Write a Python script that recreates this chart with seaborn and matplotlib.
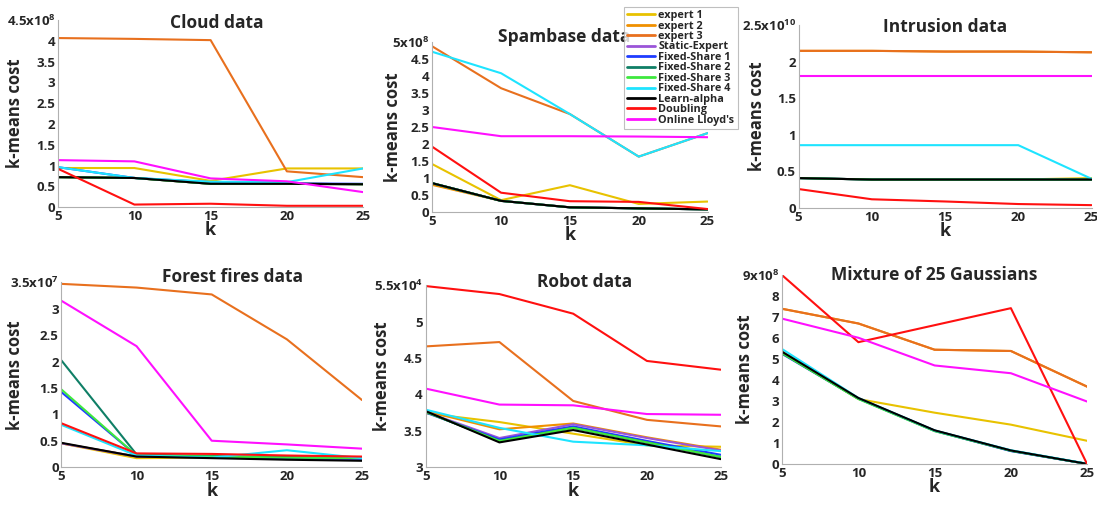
import pandas as pd
import matplotlib
matplotlib.use('Agg')
import matplotlib.pyplot as plt
import seaborn as sns

# k values used in every panel
k_values = [5, 10, 15, 20, 25]

methods = ['expert 1', 'expert 2', 'expert 3', 'Static-Expert',
           'Fixed-Share 1', 'Fixed-Share 2', 'Fixed-Share 3',
           'Fixed-Share 4', 'Learn-alpha', 'Doubling', "Online Lloyd's"]

colors = ['#e8c200', '#f09000', '#e8701e', '#9a55d8', '#1f3cff',
          '#0f7f66', '#3ee83e', '#1ee4ff', '#000000', '#ff1010',
          '#ff10ff']

# Cloud data (x 1e8)
cloud = {
    'expert 1': [0.94, 0.94, 0.63, 0.93, 0.93],
    'expert 2': [0.72, 0.70, 0.56, 0.56, 0.55],
    'expert 3': [4.07, 4.05, 4.02, 0.86, 0.72],
    'Static-Expert': [0.72, 0.70, 0.56, 0.56, 0.55],
    'Fixed-Share 1': [0.96, 0.70, 0.60, 0.57, 0.56],
    'Fixed-Share 2': [0.72, 0.70, 0.56, 0.56, 0.55],
    'Fixed-Share 3': [0.72, 0.70, 0.56, 0.56, 0.55],
    'Fixed-Share 4': [0.96, 0.70, 0.61, 0.60, 0.93],
    'Learn-alpha': [0.72, 0.70, 0.56, 0.56, 0.55],
    'Doubling': [0.92, 0.06, 0.08, 0.03, 0.03],
    "Online Lloyd's": [1.13, 1.10, 0.69, 0.62, 0.36],
}

# Spambase data (x 1e8)
spambase = {
    'expert 1': [1.41, 0.35, 0.79, 0.24, 0.31],
    'expert 2': [0.80, 0.33, 0.14, 0.11, 0.08],
    'expert 3': [4.87, 3.64, 2.88, 1.63, 2.32],
    'Static-Expert': [0.85, 0.33, 0.14, 0.11, 0.08],
    'Fixed-Share 1': [0.85, 0.33, 0.14, 0.11, 0.08],
    'Fixed-Share 2': [0.85, 0.33, 0.14, 0.11, 0.08],
    'Fixed-Share 3': [0.85, 0.33, 0.14, 0.11, 0.08],
    'Fixed-Share 4': [4.71, 4.08, 2.88, 1.63, 2.32],
    'Learn-alpha': [0.85, 0.33, 0.14, 0.11, 0.08],
    'Doubling': [1.92, 0.57, 0.32, 0.30, 0.09],
    "Online Lloyd's": [2.50, 2.23, 2.23, 2.22, 2.20],
}

# Intrusion data (x 1e10)
intrusion = {
    'expert 1': [0.41, 0.39, 0.39, 0.39, 0.41],
    'expert 2': [2.15, 2.15, 2.14, 2.14, 2.13],
    'expert 3': [2.15, 2.15, 2.14, 2.14, 2.13],
    'Static-Expert': [0.41, 0.39, 0.39, 0.39, 0.39],
    'Fixed-Share 1': [0.41, 0.39, 0.39, 0.39, 0.39],
    'Fixed-Share 2': [0.41, 0.39, 0.39, 0.39, 0.39],
    'Fixed-Share 3': [0.41, 0.39, 0.39, 0.39, 0.39],
    'Fixed-Share 4': [0.86, 0.86, 0.86, 0.86, 0.40],
    'Learn-alpha': [0.41, 0.39, 0.39, 0.39, 0.39],
    'Doubling': [0.26, 0.12, 0.09, 0.055, 0.04],
    "Online Lloyd's": [1.81, 1.81, 1.81, 1.81, 1.81],
}

# Forest fires data (x 1e7)
forest = {
    'expert 1': [0.45, 0.17, 0.18, 0.17, 0.16],
    'expert 2': [0.45, 0.20, 0.19, 0.18, 0.17],
    'expert 3': [3.47, 3.40, 3.27, 2.42, 1.27],
    'Static-Expert': [0.45, 0.20, 0.18, 0.16, 0.15],
    'Fixed-Share 1': [1.42, 0.22, 0.19, 0.17, 0.16],
    'Fixed-Share 2': [2.02, 0.24, 0.21, 0.19, 0.18],
    'Fixed-Share 3': [1.47, 0.22, 0.20, 0.18, 0.17],
    'Fixed-Share 4': [0.80, 0.22, 0.18, 0.32, 0.17],
    'Learn-alpha': [0.46, 0.20, 0.17, 0.14, 0.12],
    'Doubling': [0.83, 0.26, 0.25, 0.22, 0.20],
    "Online Lloyd's": [3.15, 2.29, 0.50, 0.43, 0.35],
}

# Robot data (x 1e4)
robot = {
    'expert 1': [3.74, 3.62, 3.46, 3.30, 3.28],
    'expert 2': [3.77, 3.52, 3.60, 3.41, 3.24],
    'expert 3': [4.66, 4.72, 3.91, 3.65, 3.56],
    'Static-Expert': [3.76, 3.40, 3.59, 3.40, 3.23],
    'Fixed-Share 1': [3.75, 3.38, 3.56, 3.36, 3.17],
    'Fixed-Share 2': [3.76, 3.36, 3.54, 3.34, 3.14],
    'Fixed-Share 3': [3.76, 3.36, 3.54, 3.34, 3.14],
    'Fixed-Share 4': [3.79, 3.54, 3.35, 3.30, 3.22],
    'Learn-alpha': [3.77, 3.34, 3.51, 3.31, 3.11],
    'Doubling': [5.49, 5.38, 5.11, 4.46, 4.34],
    "Online Lloyd's": [4.08, 3.86, 3.85, 3.73, 3.72],
}

# Mixture of 25 Gaussians (x 1e8)
mixture = {
    'expert 1': [5.35, 3.10, 2.45, 1.88, 1.11],
    'expert 2': [7.40, 6.70, 5.45, 5.39, 3.69],
    'expert 3': [7.40, 6.70, 5.45, 5.39, 3.69],
    'Static-Expert': [5.30, 3.13, 1.60, 0.64, 0.01],
    'Fixed-Share 1': [5.25, 3.12, 1.58, 0.62, 0.01],
    'Fixed-Share 2': [5.28, 3.12, 1.59, 0.63, 0.01],
    'Fixed-Share 3': [5.28, 3.10, 1.57, 0.64, 0.01],
    'Fixed-Share 4': [5.48, 3.15, 1.60, 0.66, 0.02],
    'Learn-alpha': [5.35, 3.15, 1.61, 0.65, 0.01],
    'Doubling': [9.00, 5.81, 6.62, 7.43, 0.00],
    "Online Lloyd's": [6.93, 6.02, 4.70, 4.33, 2.98],
}

# title, data, y top, y step, exponent, axes rect, title x/y, ylabel x
panels = [
    ('Cloud data', cloud, 4.5, 0.5, 8,
     [0.053, 0.590, 0.278, 0.370], 0.52, 0.985, -0.141),
    ('Spambase data', spambase, 5.0, 0.5, 8,
     [0.394, 0.580, 0.251, 0.337], 0.48, 1.03, -0.142),
    ('Intrusion data', intrusion, 2.5, 0.5, 10,
     [0.728, 0.588, 0.267, 0.362], 0.50, 0.99, -0.143),
    ('Forest fires data', forest, 3.5, 0.5, 7,
     [0.056, 0.075, 0.274, 0.366], 0.57, 1.03, -0.153),
    ('Robot data', robot, 5.5, 0.5, 4,
     [0.388, 0.075, 0.269, 0.360], 0.54, 1.02, -0.149),
    ('Mixture of 25 Gaussians', mixture, 9.0, 1.0, 8,
     [0.713, 0.081, 0.278, 0.374], 0.50, 1.0, -0.121),
]
y_bottom = {'Robot data': 3.0}

sns.set_style('white')
plt.rcParams['font.family'] = ['Open Sans', 'DejaVu Sans']
plt.rcParams['font.weight'] = 'bold'
plt.rcParams['mathtext.default'] = 'regular'
palette = dict(zip(methods, colors))

fig = plt.figure(figsize=(10.97, 5.05), dpi=100)

for title, values, top, step, expo, pos, tx, ty, ylx in panels:
    ax = fig.add_axes(pos)
    df = pd.DataFrame(values, index=k_values)
    df.index.name = 'k'
    long = df.reset_index().melt(id_vars='k', var_name='method',
                                 value_name='cost')
    sns.lineplot(data=long, x='k', y='cost', hue='method',
                 hue_order=methods, palette=palette, linewidth=1.5,
                 legend=(title == 'Spambase data'), ax=ax)
    bottom = y_bottom.get(title, 0.0)
    ax.set_xlim(5, 25)
    ax.set_ylim(bottom, top)
    ax.set_xticks(k_values)
    yt = []
    v = bottom
    while v <= top + 1e-9:
        yt.append(round(v, 2))
        v += step
    ax.set_yticks(yt)
    labels = ['%g' % t for t in yt]
    labels[-1] = labels[-1] + 'x10$^{%d}$' % expo
    ax.set_yticklabels(labels, fontsize=9.5, fontweight='bold')
    for lab in ax.get_xticklabels():
        lab.set_fontsize(9.5)
        lab.set_fontweight('bold')
    ax.tick_params(axis='both', length=0, pad=2)
    ax.set_xlabel('k', fontsize=13, fontweight='bold', labelpad=-1)
    ax.set_ylabel('k-means cost', fontsize=12, fontweight='bold',
                  va='center')
    ax.yaxis.set_label_coords(ylx, 0.5)
    for side in ['top', 'right']:
        ax.spines[side].set_visible(False)
    for side in ['left', 'bottom']:
        ax.spines[side].set_color('#b0b0b0')
        ax.spines[side].set_linewidth(0.8)
    ax.text(tx, ty, title, transform=ax.transAxes, ha='center', va='center',
            fontsize=12.5, fontweight='bold')
    if title == 'Spambase data':
        leg = ax.legend(title=None, loc='upper left',
                        bbox_to_anchor=(0.695, 1.206), borderaxespad=0,
                        fontsize=7.8, handlelength=2.6, handletextpad=0.3,
                        labelspacing=-0.05, borderpad=0.3,
                        frameon=True, fancybox=False)
        leg.get_frame().set_edgecolor('#b0b0b0')
        leg.get_frame().set_linewidth(0.8)
        for line in leg.get_lines():
            line.set_linewidth(2.0)

fig.savefig('out.png', dpi=100)
